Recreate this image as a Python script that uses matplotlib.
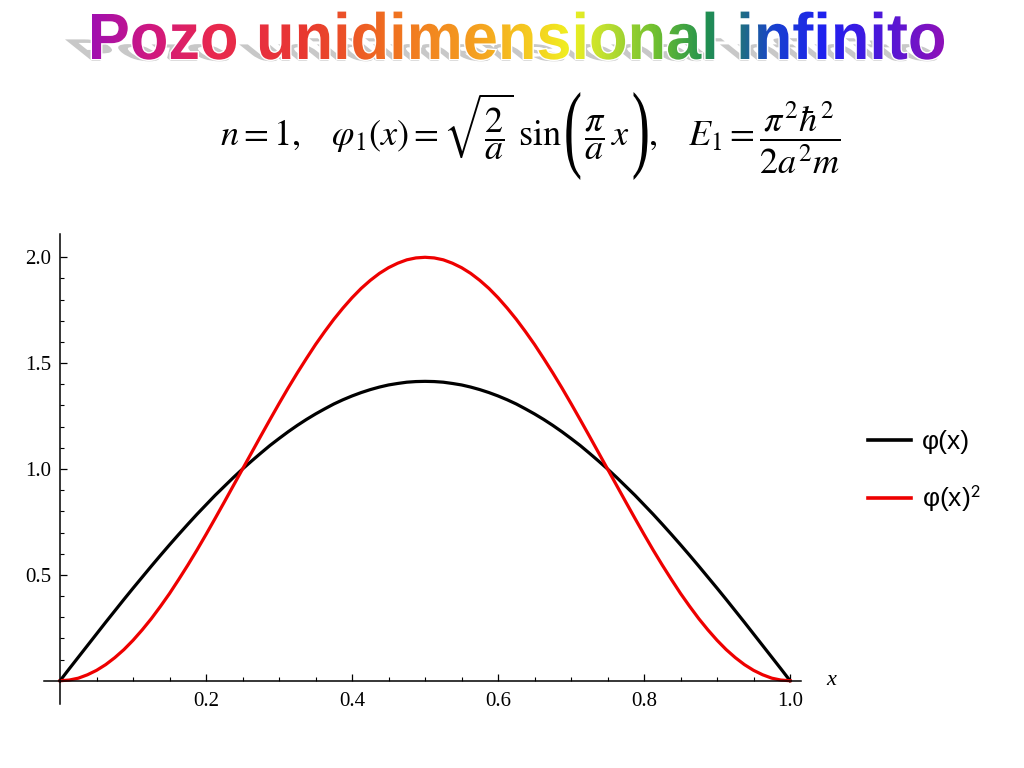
import numpy as np
import matplotlib
matplotlib.use("Agg")
import matplotlib.pyplot as plt
from matplotlib import font_manager
from matplotlib.textpath import TextPath
from matplotlib.font_manager import FontProperties
from matplotlib.patches import PathPatch
from matplotlib.transforms import Affine2D
from matplotlib.colors import LinearSegmentedColormap

# Values
x_vals = [0.0, 0.0125, 0.025, 0.0375, 0.05, 0.0625, 0.075, 0.0875, 0.1, 0.1125,
          0.125, 0.1375, 0.15, 0.1625, 0.175, 0.1875, 0.2, 0.2125, 0.225, 0.2375,
          0.25, 0.2625, 0.275, 0.2875, 0.3, 0.3125, 0.325, 0.3375, 0.35, 0.3625,
          0.375, 0.3875, 0.4, 0.4125, 0.425, 0.4375, 0.45, 0.4625, 0.475, 0.4875,
          0.5, 0.5125, 0.525, 0.5375, 0.55, 0.5625, 0.575, 0.5875, 0.6, 0.6125,
          0.625, 0.6375, 0.65, 0.6625, 0.675, 0.6875, 0.7, 0.7125, 0.725, 0.7375,
          0.75, 0.7625, 0.775, 0.7875, 0.8, 0.8125, 0.825, 0.8375, 0.85, 0.8625,
          0.875, 0.8875, 0.9, 0.9125, 0.925, 0.9375, 0.95, 0.9625, 0.975, 0.9875, 1.0]
phi_vals = [0.0, 0.056, 0.111, 0.166, 0.221, 0.276, 0.330, 0.384, 0.437, 0.489,
            0.541, 0.592, 0.642, 0.691, 0.739, 0.786, 0.831, 0.876, 0.918, 0.960,
            1.000, 1.038, 1.075, 1.111, 1.144, 1.176, 1.206, 1.234, 1.260, 1.284,
            1.307, 1.327, 1.345, 1.361, 1.375, 1.387, 1.397, 1.404, 1.410, 1.413,
            1.414, 1.413, 1.410, 1.404, 1.397, 1.387, 1.375, 1.361, 1.345, 1.327,
            1.307, 1.284, 1.260, 1.234, 1.206, 1.176, 1.144, 1.111, 1.075, 1.038,
            1.000, 0.960, 0.918, 0.876, 0.831, 0.786, 0.739, 0.691, 0.642, 0.592,
            0.541, 0.489, 0.437, 0.384, 0.330, 0.276, 0.221, 0.166, 0.111, 0.056, 0.0]
phi2_vals = [0.0, 0.003, 0.012, 0.028, 0.049, 0.076, 0.109, 0.147, 0.191, 0.240,
             0.293, 0.351, 0.412, 0.478, 0.546, 0.617, 0.691, 0.767, 0.844, 0.922,
             1.000, 1.078, 1.156, 1.233, 1.309, 1.383, 1.454, 1.522, 1.588, 1.649,
             1.707, 1.760, 1.809, 1.853, 1.891, 1.924, 1.951, 1.972, 1.988, 1.997,
             2.000, 1.997, 1.988, 1.972, 1.951, 1.924, 1.891, 1.853, 1.809, 1.760,
             1.707, 1.649, 1.588, 1.522, 1.454, 1.383, 1.309, 1.233, 1.156, 1.078,
             1.000, 0.922, 0.844, 0.767, 0.691, 0.617, 0.546, 0.478, 0.412, 0.351,
             0.293, 0.240, 0.191, 0.147, 0.109, 0.076, 0.049, 0.028, 0.012, 0.003, 0.0]
labels = ["φ(x)", r"φ(x)$^{\mathsf{2}}$"]
xticks = [0.2, 0.4, 0.6, 0.8, 1.0]
yticks = [0.5, 1.0, 1.5, 2.0]

title = "Pozo unidimensional infinito"
formula_parts = [r"$n=1,\quad\varphi_1\left(x\right)=\sqrt{\dfrac{2}{a}}\;\sin$",
                 r"$\dfrac{\pi}{a}\,x$",
                 r"$,\quad E_1=\dfrac{\pi^2\hbar^2}{2a^2m}$"]

plt.rcParams["mathtext.fontset"] = "stix"
plt.rcParams["font.family"] = ["Liberation Serif", "DejaVu Serif"]

fig = plt.figure(figsize=(10.24, 7.68), dpi=100)

# Main plot, Mathematica-like axes through the origin
ax = fig.add_axes([44 / 1024, 64 / 768, 757 / 1024, 470 / 768])
ax.plot(x_vals, phi_vals, color="black", lw=2.3, label=labels[0])
ax.plot(x_vals, phi2_vals, color="#ee0000", lw=2.3, label=labels[1])
ax.set_xlim(-0.022, 1.015)
ax.set_ylim(-0.11, 2.11)
ax.spines["left"].set_position(("data", 0))
ax.spines["bottom"].set_position(("data", 0))
ax.spines["top"].set_visible(False)
ax.spines["right"].set_visible(False)
for s in ("left", "bottom"):
    ax.spines[s].set_linewidth(1.1)
ax.set_xticks(xticks)
ax.set_yticks(yticks)
ax.set_xticklabels([f"{v:.1f}" for v in xticks])
ax.set_yticklabels([f"{v:.1f}" for v in yticks])
ax.set_xticks(np.arange(0.05, 1.0, 0.05), minor=True)
ax.set_yticks(np.arange(0.1, 2.1, 0.1), minor=True)
ax.tick_params(which="major", direction="in", length=5, width=0.9, labelsize=15)
ax.tick_params(axis="x", which="major", pad=8)
ax.tick_params(axis="y", which="major", pad=6.5)
ax.tick_params(which="minor", direction="in", length=3, width=0.8)
ax.patch.set_visible(False)
ax.text(1.05, 0.0, "x", style="italic", fontsize=16, va="center", ha="left")

leg = ax.legend(loc="center left", bbox_to_anchor=(855 / 1024, 1 - 472 / 768),
                bbox_transform=fig.transFigure, frameon=False,
                prop=FontProperties(family="Liberation Sans", size=19),
                handlelength=1.63, handletextpad=0.4, labelspacing=1.1, borderpad=0)
for line in leg.get_lines():
    line.set_linewidth(2.6)

# Overlay for the title and formula, in pixel coordinates
ov = fig.add_axes([0, 0, 1, 1])
ov.set_xlim(0, 1024)
ov.set_ylim(0, 768)
ov.axis("off")
ov.patch.set_visible(False)

# pick a real bold sans file for the title
fp = None
for fam in ["Liberation Sans", "Roboto", "Open Sans", "Lato", "Noto Sans", "Inter"]:
    cand = FontProperties(family=fam, weight="bold")
    try:
        f = font_manager.findfont(cand, fallback_to_default=False)
    except Exception:
        continue
    if "bold" in f.lower() and "semi" not in f.lower():
        fp = cand
        break
if fp is None:
    fp = FontProperties(family="DejaVu Sans", weight="bold")

tp = TextPath((0, 0), title, size=100, prop=fp)
ext = tp.get_extents()
cap = TextPath((0, 0), "P", size=100, prop=fp).get_extents().y1
sx = 852 / (ext.x1 - ext.x0)
sy = 45 / cap
base = 709

shadow_tr = (Affine2D().translate(-ext.x0, 0).scale(sx, sy * 0.48)
             .skew(np.arctan(-1.25), 0).translate(92, base - 2))
ov.add_patch(PathPatch(shadow_tr.transform_path(tp), fc="#c8c8c8", ec="none", zorder=1))

text_tr = Affine2D().translate(-ext.x0, 0).scale(sx, sy).translate(92, base)
tpath = text_tr.transform_path(tp)
ov.add_patch(PathPatch(tpath, fc="white", ec="white", lw=2.0, zorder=2))
clip = PathPatch(tpath, fc="none", ec="none", zorder=2)
ov.add_patch(clip)
rainbow = LinearSegmentedColormap.from_list("rainbow_title", [
    (0.00, "#a010b0"), (0.07, "#d01880"), (0.14, "#e82850"), (0.25, "#e83830"),
    (0.35, "#f07020"), (0.45, "#f5a020"), (0.52, "#f5d020"), (0.56, "#f0f020"),
    (0.60, "#c0e030"), (0.66, "#70c030"), (0.72, "#209050"), (0.76, "#207080"),
    (0.80, "#1840d0"), (0.86, "#2020f0"), (0.93, "#5018d8"), (1.00, "#9010b8")])
im = ov.imshow(np.linspace(0, 1, 512)[None, :], cmap=rainbow, aspect="auto",
               extent=(90, 947, base - 5, base + 60), interpolation="bilinear", zorder=3)
im.set_clip_path(clip)
ov.set_xlim(0, 1024)
ov.set_ylim(0, 768)

# Formula, laid out piece by piece so the sin brackets can be tall
renderer = fig.canvas.get_renderer()
fbase = 622
texts = [ov.text(0, fbase, s, fontsize=26, va="baseline", ha="left") for s in formula_parts]
widths = [t.get_window_extent(renderer).width for t in texts]
pp = TextPath((0, 0), "(", size=100, prop=FontProperties(family="Liberation Serif"))
pext = pp.get_extents()
par_w, par_h, gap = 14, 88, 4
total = sum(widths) + 2 * par_w + 3 * gap
x0 = 530 - total / 2
texts[0].set_x(x0)
xl = x0 + widths[0] + gap
texts[1].set_x(xl + par_w + gap)
xr = xl + par_w + gap + widths[1] + gap
texts[2].set_x(xr + par_w)
for xp, flip in ((xl, False), (xr, True)):
    tr = Affine2D().translate(-pext.x0, -(pext.y0 + pext.y1) / 2)
    tr = tr.scale(par_w / (pext.x1 - pext.x0), par_h / (pext.y1 - pext.y0))
    if flip:
        tr = tr.scale(-1, 1).translate(par_w, 0)
    tr = tr.translate(xp, 632)
    ov.add_patch(PathPatch(tr.transform_path(pp), fc="black", ec="none"))

fig.savefig("out.png", dpi=100)
